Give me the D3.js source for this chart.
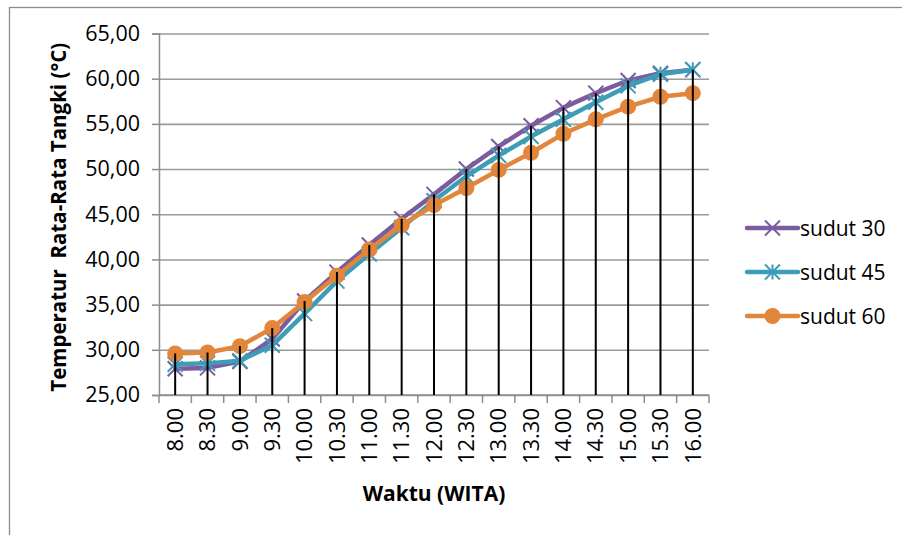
<!DOCTYPE html>
<html>
<head>
<meta charset="utf-8">
<script src="https://cdn.jsdelivr.net/npm/d3@7"></script>
<style>
  html, body { margin: 0; padding: 0; background: #fff; }
  svg { display: block; }
  text { font-family: "Open Sans", "Noto Sans", sans-serif; fill: #000; }
</style>
</head>
<body>
<svg id="chart" width="902" height="535"></svg>
<script>
// Waktu pengamatan (WITA)
const categories = ["8.00", "8.30", "9.00", "9.30", "10.00", "10.30", "11.00", "11.30",
  "12.00", "12.30", "13.00", "13.30", "14.00", "14.30", "15.00", "15.30", "16.00"];

// Temperatur rata-rata tangki (°C) per sudut kemiringan
const sudut30 = [27.9, 28.0, 28.7, 31.2, 35.4, 38.6, 41.6, 44.5, 47.2, 50.0, 52.5, 54.8, 56.8, 58.4, 59.8, 60.6, 61.0];
const sudut45 = [28.4, 28.5, 28.8, 30.5, 34.0, 37.6, 40.6, 43.5, 46.5, 49.2, 51.5, 53.6, 55.5, 57.4, 59.2, 60.5, 61.0];
const sudut60 = [29.6, 29.7, 30.4, 32.4, 35.3, 38.2, 41.1, 43.8, 46.0, 47.9, 49.9, 51.8, 53.9, 55.5, 56.9, 58.0, 58.4];

const seriesNames = ["sudut 30", "sudut 45", "sudut 60"];
const yTicks = [25, 30, 35, 40, 45, 50, 55, 60, 65];

const series = [
  { name: seriesNames[0], values: sudut30, color: "#7B5C9E", marker: "x" },
  { name: seriesNames[1], values: sudut45, color: "#3D9DB7", marker: "star" },
  { name: seriesNames[2], values: sudut60, color: "#E2863B", marker: "circle" }
];

const svg = d3.select("#chart");
const plotLeft = 159, plotRight = 709, plotTop = 33.5, plotBottom = 395;

const x = d3.scaleBand().domain(categories).range([plotLeft, plotRight]).padding(0);
const cx = c => x(c) + x.bandwidth() / 2;
const y = d3.scaleLinear().domain([25, 65]).range([plotBottom, plotTop]);

// outer chart frame
svg.append("rect")
  .attr("x", 9.5).attr("y", 7.5).attr("width", 1000).attr("height", 1000)
  .attr("fill", "none").attr("stroke", "#8c8c8c").attr("stroke-width", 1.3);

// horizontal gridlines
svg.append("g")
  .attr("transform", `translate(${plotLeft},0)`)
  .call(d3.axisLeft(y).tickValues(yTicks).tickSize(-(plotRight - plotLeft)).tickFormat(""))
  .call(g => g.select(".domain").remove())
  .call(g => g.selectAll("line").attr("stroke", "#9a9a9a").attr("stroke-width", 1.6));

// y axis
svg.append("g")
  .attr("transform", `translate(${plotLeft},0)`)
  .call(d3.axisLeft(y).tickValues(yTicks).tickSize(7).tickPadding(12)
    .tickFormat(d => d3.format(".2f")(d).replace(".", ",")))
  .call(g => g.select(".domain").attr("stroke", "#8c8c8c").attr("stroke-width", 1.5))
  .call(g => g.selectAll("line").attr("stroke", "#8c8c8c").attr("stroke-width", 1.5))
  .call(g => g.selectAll("text").attr("font-size", 21.5)
    .attr("font-family", "'Open Sans', sans-serif").attr("fill", "#000"));

// x axis line and category boundary ticks
const xAxis = svg.append("g").attr("transform", `translate(0,${plotBottom})`);
xAxis.append("line").attr("x1", plotLeft).attr("x2", plotRight)
  .attr("stroke", "#8c8c8c").attr("stroke-width", 1.5);
xAxis.selectAll("line.tick")
  .data(categories.map(c => x(c)).concat([x.range()[1]]))
  .join("line").attr("class", "tick")
  .attr("x1", d => d).attr("x2", d => d).attr("y1", 0).attr("y2", 8)
  .attr("stroke", "#8c8c8c").attr("stroke-width", 1.5);

// rotated category labels
svg.append("g").attr("transform", `translate(0,${plotBottom})`)
  .call(d3.axisBottom(x).tickSize(0).tickPadding(0))
  .call(g => g.select(".domain").remove())
  .call(g => g.selectAll("text")
    .attr("font-size", 22).attr("font-family", "'Open Sans', sans-serif").attr("fill", "#000")
    .attr("text-anchor", "end").attr("dy", "0.35em")
    .attr("transform", "translate(0,13) rotate(-90)")
    .attr("x", 0).attr("y", 0));

// series lines and markers
const line = d3.line().x((d, i) => cx(categories[i])).y(d => y(d));

series.forEach(s => {
  const g = svg.append("g");
  g.append("path").datum(s.values).attr("d", line)
    .attr("fill", "none").attr("stroke", s.color).attr("stroke-width", 4.5)
    .attr("stroke-linejoin", "round").attr("stroke-linecap", "round");
  s.values.forEach((v, i) => drawMarker(g, s, cx(categories[i]), y(v)));
});

function drawMarker(g, s, px, py) {
  if (s.marker === "circle") {
    g.append("circle").attr("cx", px).attr("cy", py).attr("r", 8).attr("fill", s.color);
  } else {
    const r = 7.5;
    const p = `M${px - r},${py - r}L${px + r},${py + r}M${px - r},${py + r}L${px + r},${py - r}` +
      (s.marker === "star" ? `M${px},${py - r}L${px},${py + r}` : "");
    g.append("path").attr("d", p).attr("stroke", s.color).attr("stroke-width", 2).attr("fill", "none");
  }
}

// drop lines from the highest point of each category to the axis
svg.append("g").selectAll("line")
  .data(categories.map((c, i) => ({ c, v: d3.max(series, s => s.values[i]) })))
  .join("line")
  .attr("x1", d => cx(d.c)).attr("x2", d => cx(d.c))
  .attr("y1", d => y(d.v)).attr("y2", plotBottom)
  .attr("stroke", "#000").attr("stroke-width", 2);

// axis titles
svg.append("text")
  .attr("x", (plotLeft + plotRight) / 2).attr("y", 501)
  .attr("text-anchor", "middle").attr("font-weight", "bold").attr("font-size", 21)
  .text("Waktu (WITA)");

svg.append("text")
  .attr("transform", `translate(66,${(plotTop + plotBottom) / 2 + 3}) rotate(-90)`)
  .attr("text-anchor", "middle").attr("font-weight", "bold").attr("font-size", 20.5)
  .attr("xml:space", "preserve").style("white-space", "pre")
  .text("Temperatur  Rata-Rata Tangki (°C)");

// legend
const legend = svg.append("g");
series.forEach((s, i) => {
  const ly = 228 + i * 44;
  const lg = legend.append("g");
  lg.append("line").attr("x1", 747).attr("x2", 798).attr("y1", ly).attr("y2", ly)
    .attr("stroke", s.color).attr("stroke-width", 4.5).attr("stroke-linecap", "round");
  drawMarker(lg, s, 772.5, ly);
  lg.append("text").attr("x", 800).attr("y", ly).attr("dy", "0.36em")
    .attr("font-size", 21).text(s.name);
});
</script>
</body>
</html>
